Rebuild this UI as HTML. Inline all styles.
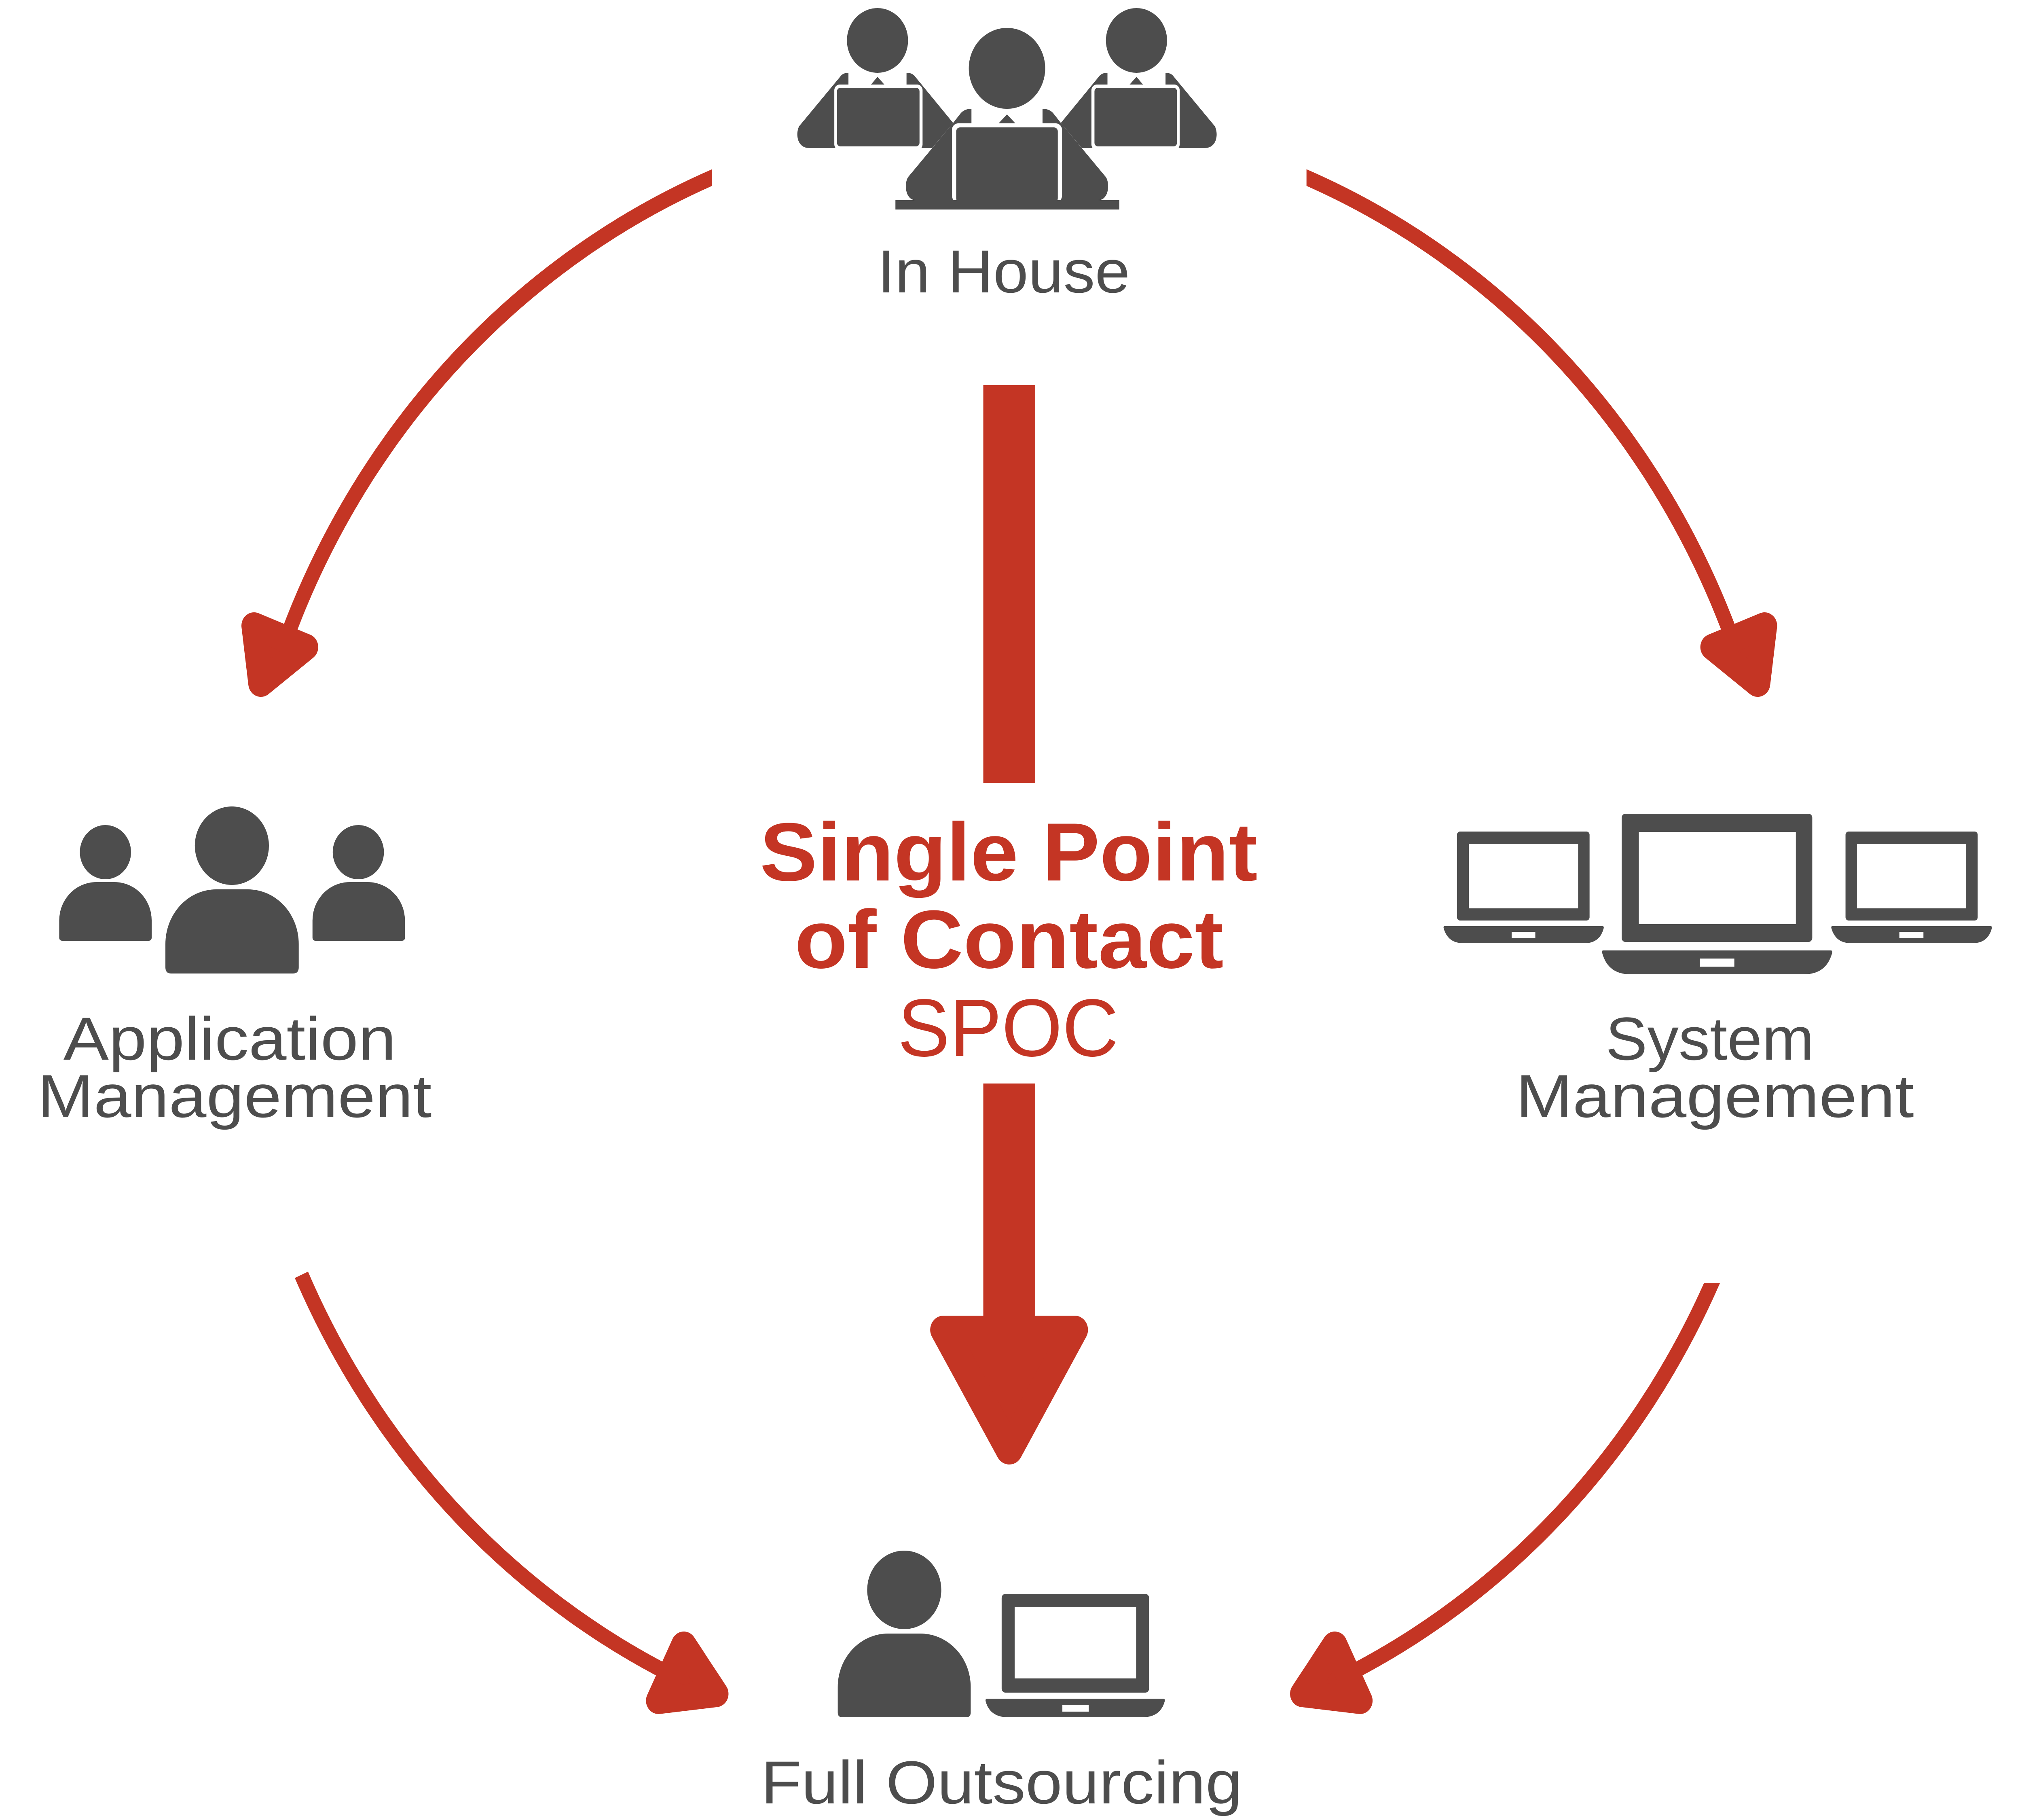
<!DOCTYPE html>
<html><head><meta charset="utf-8"><style>html,body{margin:0;padding:0;background:#fff;width:100%;height:100%;overflow:hidden}svg{display:block;position:fixed;left:0;top:0;width:100vw;height:100vh}</style></head><body>
<svg xmlns="http://www.w3.org/2000/svg" viewBox="0 0 5293 4500" preserveAspectRatio="none">
<defs>
<clipPath id="cTL"><rect x="0" y="0" width="1864" height="4500"/></clipPath>
<clipPath id="cTR"><rect x="3420" y="0" width="1873" height="4500"/></clipPath>
<clipPath id="cBR"><rect x="0" y="3172" width="5293" height="1328"/></clipPath>
<g id="sidep">
<circle cx="2297" cy="100" r="80"/>
<path d="M2221 209 L2221 180 Q2206 180 2199 190 L2092 312 C2082 330 2086 366 2118 366 L2440 366 L2495 304 L2396 190 Q2389 180 2373 180 L2373 209 Z"/>
<polygon points="2280,209 2297,190 2315,209"/>
<rect x="2184" y="209" width="231" height="162" rx="14" fill="#fff"/>
<rect x="2191" y="217" width="216" height="145" rx="9"/>
</g>
</defs>
<rect width="5293" height="4500" fill="#fff"/>

<!-- In House icon -->
<g fill="#4D4D4D">
<use href="#sidep"/>
<use href="#sidep" transform="translate(5272,0) scale(-1,1)"/>
<circle cx="2636" cy="169" r="100"/>
<path d="M2543 305 L2543 269 Q2524 269 2514 281 L2495 304 L2377 438 C2367 452 2368 495 2398 495 L2874 495 C2904 495 2905 452 2895 438 L2777 304 L2758 281 Q2748 269 2729 269 L2729 305 Z"/>
<polygon points="2614,305 2636,283 2658,305"/>
<rect x="2492" y="305" width="288" height="195" rx="16" fill="#fff"/>
<rect x="2503" y="315" width="266" height="185" rx="10"/>
<rect x="2344" y="495" width="586" height="23"/>
</g>

<!-- Application Management icon -->
<g fill="#4D4D4D">
<circle cx="276" cy="2107" r="67"/>
<path d="M155 2318 L155 2276 A97 95 0 0 1 252 2181 L300 2181 A97 95 0 0 1 397 2276 L397 2318 Q397 2326 389 2326 L163 2326 Q155 2326 155 2318 Z"/>
<circle cx="607" cy="2091" r="97"/>
<path d="M433 2392 L433 2334 A133 135 0 0 1 566 2199 L649 2199 A133 135 0 0 1 782 2334 L782 2392 Q782 2407 767 2407 L448 2407 Q433 2407 433 2392 Z"/>
<circle cx="938" cy="2107" r="67"/>
<path d="M818 2318 L818 2276 A97 95 0 0 1 915 2181 L963 2181 A97 95 0 0 1 1060 2276 L1060 2318 Q1060 2326 1052 2326 L826 2326 Q818 2326 818 2318 Z"/>
</g>

<!-- System Management icon -->
<g fill="#4D4D4D">
<rect x="3814" y="2056" width="347" height="220" rx="8"/>
<rect x="3845" y="2087" width="286" height="159" fill="#fff"/>
<path d="M3781 2290 L4195 2290 Q4199 2290 4198 2295 Q4188 2332 4148 2332 L3830 2332 Q3790 2332 3779 2295 Q3778 2290 3781 2290 Z"/>
<rect x="3957" y="2304" width="62" height="15" fill="#fff"/>

<rect x="4245" y="2012" width="499" height="317" rx="10"/>
<rect x="4290" y="2057" width="411" height="228" fill="#fff"/>
<path d="M4196 2350 L4793 2350 Q4797 2350 4796 2356 Q4781 2409 4722 2409 L4268 2409 Q4209 2409 4194 2356 Q4193 2350 4196 2350 Z"/>
<rect x="4450" y="2370" width="90" height="20" fill="#fff"/>

<rect x="4831" y="2056" width="346" height="220" rx="8"/>
<rect x="4861" y="2087" width="286" height="159" fill="#fff"/>
<path d="M4796 2290 L5211 2290 Q5215 2290 5214 2295 Q5204 2332 5164 2332 L4845 2332 Q4805 2332 4794 2295 Q4793 2290 4796 2290 Z"/>
<rect x="4972" y="2304" width="63" height="15" fill="#fff"/>
</g>

<!-- Full Outsourcing icon -->
<g fill="#4D4D4D">
<circle cx="2367" cy="3931" r="97"/>
<path d="M2193 4234 L2193 4171 A132 132 0 0 1 2325 4039 L2409 4039 A132 132 0 0 1 2541 4171 L2541 4234 Q2541 4246 2529 4246 L2205 4246 Q2193 4246 2193 4234 Z"/>
<rect x="2622" y="3941" width="386" height="244" rx="10"/>
<rect x="2656" y="3974" width="318" height="176" fill="#fff"/>
<path d="M2584 4200 L3045 4200 Q3050 4200 3049 4206 Q3038 4246 2990 4246 L2639 4246 Q2591 4246 2580 4206 Q2579 4200 2584 4200 Z"/>
<rect x="2781" y="4216" width="69" height="16" fill="#fff"/>
</g>

<!-- Red arrows -->
<g fill="none" stroke="#C43524" stroke-width="38">
<path clip-path="url(#cTL)" d="M1914.5 418.8 A2030 2030 0 0 0 749 1580"/>
<path clip-path="url(#cTR)" d="M3369.5 418.8 A2030 2030 0 0 1 4535 1580"/>
<path d="M789 3152 A2030 2030 0 0 0 1755 4140"/>
<path clip-path="url(#cBR)" d="M4510.6 3107 A2030 2030 0 0 1 3529 4140"/>
</g>
<g fill="#C43524" stroke="#C43524" stroke-width="66" stroke-linejoin="round">
<polygon points="665,1547 800,1600 683,1690"/>
<polygon points="4619,1547 4484,1600 4601,1690"/>
<polygon points="1790,4067 1874,4188 1724,4205"/>
<polygon points="3494,4067 3410,4188 3560,4205"/>
</g>
<g fill="#C43524">
<rect x="2574" y="952" width="136" height="984"/>
<rect x="2574" y="2679" width="136" height="620"/>
<polygon points="2470,3288 2813,3288 2642,3586" stroke="#C43524" stroke-width="70" stroke-linejoin="round"/>
</g>

<!-- Labels -->
<g font-family="'Liberation Sans', 'DejaVu Sans', sans-serif" fill="#4D4D4D" font-size="150">
<text x="2297" y="723" textLength="661" lengthAdjust="spacingAndGlyphs">In House</text>
<text x="166" y="2620" textLength="871" lengthAdjust="spacingAndGlyphs">Application</text>
<text x="98" y="2762" textLength="1032" lengthAdjust="spacingAndGlyphs">Management</text>
<text x="4203" y="2620" textLength="546" lengthAdjust="spacingAndGlyphs">System</text>
<text x="3968" y="2762" textLength="1042" lengthAdjust="spacingAndGlyphs">Management</text>
<text x="1992" y="4459" textLength="1260" lengthAdjust="spacingAndGlyphs">Full Outsourcing</text>
</g>
<g font-family="'Liberation Sans', 'DejaVu Sans', sans-serif" fill="#C43524">
<text x="1989" y="2177" font-size="204" font-weight="bold" textLength="1303" lengthAdjust="spacingAndGlyphs">Single Point</text>
<text x="2080" y="2393" font-size="204" font-weight="bold" textLength="1123" lengthAdjust="spacingAndGlyphs">of Contact</text>
<text x="2350" y="2611" font-size="202" textLength="578" lengthAdjust="spacingAndGlyphs">SPOC</text>
</g>
</svg>
</body></html>
